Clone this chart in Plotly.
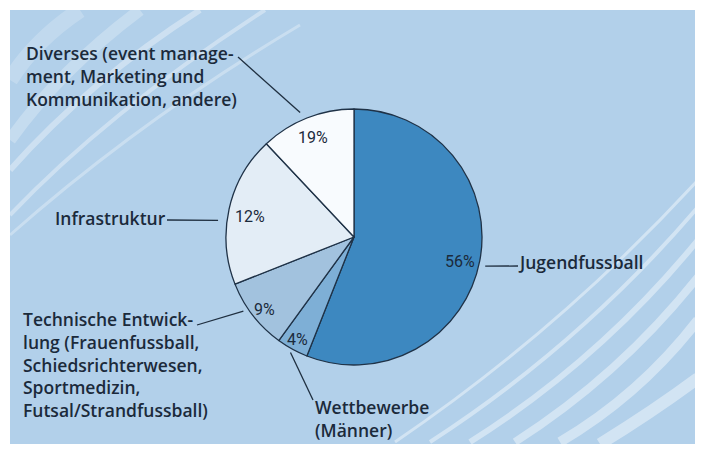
import math
import plotly.graph_objects as go

# ---------------- data ----------------
categories = [
    "Jugendfussball",
    "Wettbewerbe (Männer)",
    "Technische Entwicklung",
    "Infrastruktur",
    "Diverses",
]
# slice sizes as drawn in the picture (clockwise from 12 o'clock)
slice_values = [56, 4, 9, 19, 12]
# percentages as printed on the slices
pct_labels = ["56%", "4%", "9%", "12%", "19%"]
label_texts = [
    "Jugendfussball",
    "Wettbewerbe<br>(Männer)",
    "Technische Entwick-<br>lung (Frauenfussball,<br>Schiedsrichterwesen,<br>Sportmedizin,<br>Futsal/Strandfussball)",
    "Infrastruktur",
    "Diverses (event manage-<br>ment, Marketing und<br>Kommunikation, andere)",
]

# ---------------- style / layout ----------------
OFF = 8                      # page body margin of the html output
W, H = 703 - OFF, 455 - OFF
CX, CY, R = 354, 237, 128    # page pixel coords of pie
slice_colors = ["#3d88c0", "#7eafd6", "#a2c2de", "#e3edf6", "#f8fbfe"]
panel_color = "#b2d0ea"
ink = "#1b2a3b"

pct_radius = [0.85, 0.91, 0.90, 0.83, 0.84]
pct_nudge = [2.0, 0.0, -1.5, -1.5, -0.7]
leader_radius = [1.05, 1.03, 1.04, 1.07, 1.06]
leader_nudge = [1.7, 0.0, 4.0, -5.6, -1.8]
leader_outer = [(518, 266), (313, 400), (197, 325), (167, 220), (238, 57)]
text_anchor = [(518, 262), (315, 418.5), (23, 364.5), (55, 218), (26, 75.5)]


def px(x):
    return (x - OFF) / W


def py(y):
    return 1 - (y - OFF) / H


fig = go.Figure()
fig.add_trace(go.Pie(
    values=slice_values,
    labels=categories,
    sort=False,
    direction="clockwise",
    rotation=0,
    marker=dict(colors=slice_colors, line=dict(color="#1f3247", width=1.3)),
    textinfo="none",
    hoverinfo="skip",
    showlegend=False,
    domain=dict(x=[px(CX - R), px(CX + R)], y=[py(CY + R), py(CY - R)]),
))

total = sum(slice_values)
cum = 0
mids = []
for v in slice_values:
    mids.append(360.0 * (cum + v / 2) / total)
    cum += v

shapes = []
# background panel
shapes.append(dict(type="rect", xref="paper", yref="paper", x0=px(10), x1=px(698),
                   y0=py(444), y1=py(10), fillcolor=panel_color, line=dict(width=0),
                   layer="below"))
# decorative stripes (page pixel coords)
stripes = [
    # top-left
    ((10, 80), (35, 40), (80, 10), 16, 0.2),
    ((10, 140), (60, 70), (140, 10), 12, 0.25),
    ((10, 170), (90, 80), (200, 10), 6, 0.35),
    ((10, 215), (110, 110), (265, 10), 4, 0.35),
    ((10, 235), (140, 120), (300, 25), 3, 0.3),
    # lower-right
    ((395, 442), (560, 330), (698, 180), 3, 0.42),
    ((430, 442), (580, 345), (698, 207), 4, 0.42),
    ((470, 442), (600, 360), (698, 240), 6, 0.42),
    ((515, 442), (620, 375), (698, 277), 8, 0.42),
    ((560, 442), (640, 395), (698, 320), 10, 0.42),
    ((600, 444), (655, 410), (698, 378), 12, 0.42),
]
for (x0, y0), (qx, qy), (x1, y1), w, op in stripes:
    path = f"M {px(x0)} {py(y0)} Q {px(qx)} {py(qy)} {px(x1)} {py(y1)}"
    shapes.append(dict(type="path", xref="paper", yref="paper", path=path,
                       line=dict(color=f"rgba(255,255,255,{op})", width=w),
                       layer="below"))
# white frame to mask stripe overflow
for x0, x1, y0, y1 in [(0, 10, 0, 455), (698, 703, 0, 455), (0, 703, 0, 10), (0, 703, 444, 455)]:
    shapes.append(dict(type="rect", xref="paper", yref="paper", x0=px(x0), x1=px(x1),
                       y0=py(y1), y1=py(y0), fillcolor="white", line=dict(width=0),
                       layer="below"))

annotations = []
for i, m in enumerate(mids):
    # percentage label inside slice
    a = math.radians(m + pct_nudge[i])
    rr = R * pct_radius[i]
    annotations.append(dict(
        x=px(CX + rr * math.sin(a)), y=py(CY - rr * math.cos(a)),
        xref="paper", yref="paper", text=pct_labels[i], showarrow=False,
        font=dict(family="Liberation Sans Narrow, Roboto, sans-serif", size=16, color=ink),
        xanchor="center", yanchor="middle"))
    # leader line
    b = math.radians(m + leader_nudge[i])
    lr = R * leader_radius[i]
    ix, iy = CX + lr * math.sin(b), CY - lr * math.cos(b)
    ox, oy = leader_outer[i]
    shapes.append(dict(type="line", xref="paper", yref="paper",
                       x0=px(ix), y0=py(iy), x1=px(ox), y1=py(oy),
                       line=dict(color="#1f2f40", width=1.3)))
    # category label
    tx, ty = text_anchor[i]
    annotations.append(dict(
        x=px(tx), y=py(ty), xref="paper", yref="paper", text=label_texts[i],
        showarrow=False, align="left", xanchor="left", yanchor="middle",
        xshift=-2,
        font=dict(family="Open Sans, Noto Sans, sans-serif", size=17.5,
                  color=ink, weight=600)))

fig.update_layout(
    width=W, height=H,
    margin=dict(l=0, r=0, t=0, b=0),
    paper_bgcolor="white",
    plot_bgcolor="white",
    shapes=shapes,
    annotations=annotations,
    showlegend=False,
)

fig.write_html("out.html")
